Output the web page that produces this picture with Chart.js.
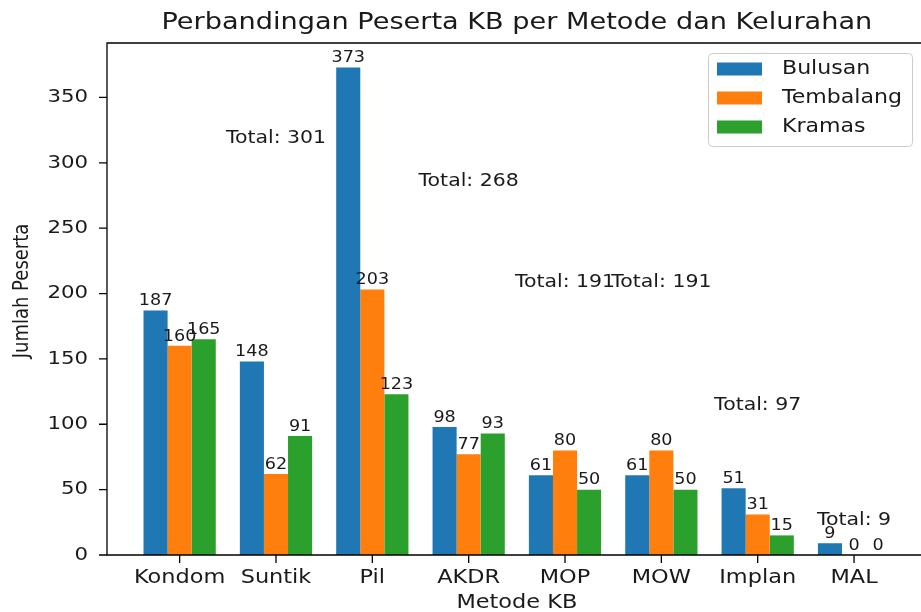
<!DOCTYPE html>
<html>
<head>
<meta charset="utf-8">
<script src="https://cdn.jsdelivr.net/npm/chart.js@4.4.1/dist/chart.umd.min.js"></script>
<style>
  html, body { margin: 0; padding: 0; background: #fff; overflow: hidden; }
  canvas { display: block; }
</style>
</head>
<body>
<canvas id="kbChart" width="921" height="612"></canvas>
<script>
// data
const categories = ['Kondom', 'Suntik', 'Pil', 'AKDR', 'MOP', 'MOW', 'Implan', 'MAL'];
const seriesNames = ['Bulusan', 'Tembalang', 'Kramas'];
const bulusan = [187, 148, 373, 98, 61, 61, 51, 9];
const tembalang = [160, 62, 203, 77, 80, 80, 31, 0];
const kramas = [165, 91, 123, 93, 50, 50, 15, 0];
const yTicks = [0, 50, 100, 150, 200, 250, 300, 350];

const colors = ['#1f77b4', '#ff7f0e', '#2ca02c'];
const FONT = '"DejaVu Sans", sans-serif';
const SX = 1.15; // teks di gambar sedikit melebar
const INK = '#1a1a1a';

function stext(ctx, s, x, y, size, align, base, rot) {
  ctx.save();
  ctx.font = size + 'px ' + FONT;
  ctx.fillStyle = INK;
  ctx.textAlign = align;
  ctx.textBaseline = base;
  ctx.translate(x, y);
  if (rot) {
    ctx.rotate(rot);
    ctx.scale(1, SX);
  } else {
    ctx.scale(SX, 1);
  }
  ctx.fillText(s, 0, 0);
  ctx.restore();
}

const allSeries = [bulusan, tembalang, kramas];
const totals = categories.map((c, i) => allSeries.reduce((s, arr) => s + arr[i], 0));

const decorPlugin = {
  id: 'decor',
  afterDatasetsDraw(chart) {
    const ctx = chart.ctx;
    const xs = chart.scales.x, ys = chart.scales.y;

    // angka di atas batang
    chart.data.datasets.forEach((ds, d) => {
      chart.getDatasetMeta(d).data.forEach((bar, i) => {
        stext(ctx, String(allSeries[d][i]), bar.x, bar.y - 1.5, 15.3, 'center', 'bottom');
      });
    });

    // total per metode
    totals.forEach((t, i) => {
      stext(ctx, 'Total: ' + t, xs.getPixelForValue(i), ys.getPixelForValue(t + 17.5), 17.8, 'center', 'middle');
    });
  },
  afterDraw(chart) {
    const ctx = chart.ctx;
    const xs = chart.scales.x, ys = chart.scales.y;
    const a = chart.chartArea;

    // spines
    ctx.save();
    ctx.strokeStyle = '#000';
    ctx.lineWidth = 1.3;
    ctx.beginPath();
    ctx.moveTo(a.right + 2, a.top); ctx.lineTo(a.left, a.top);
    ctx.lineTo(a.left, a.bottom); ctx.lineTo(a.right + 2, a.bottom);
    ctx.stroke();

    // tick kecil
    ctx.beginPath();
    yTicks.forEach(v => {
      const y = ys.getPixelForValue(v);
      ctx.moveTo(a.left, y); ctx.lineTo(a.left - 8, y);
    });
    categories.forEach((c, i) => {
      const x = xs.getPixelForValue(i);
      ctx.moveTo(x, a.bottom); ctx.lineTo(x, a.bottom + 8);
    });
    ctx.stroke();
    ctx.restore();

    yTicks.forEach(v => {
      stext(ctx, String(v), a.left - 19, ys.getPixelForValue(v), 18.5, 'right', 'middle');
    });
    categories.forEach((c, i) => {
      stext(ctx, c, xs.getPixelForValue(i), a.bottom + 13, 19.5, 'center', 'top');
    });

    const midX = xs.getPixelForValue(3.5);
    stext(ctx, 'Metode KB', midX, a.bottom + 38, 19.5, 'center', 'top');
    stext(ctx, 'Jumlah Peserta', 23, 291, 18, 'center', 'middle', -Math.PI / 2);
    stext(ctx, 'Perbandingan Peserta KB per Metode dan Kelurahan', midX, 23, 23.6, 'center', 'middle');

    // legenda
    const lx = 708, ly = 53, lw = 204, lh = 93;
    ctx.save();
    ctx.fillStyle = 'rgba(255,255,255,0.8)';
    ctx.strokeStyle = '#cccccc';
    ctx.lineWidth = 1;
    ctx.beginPath();
    ctx.roundRect(lx + 0.5, ly + 0.5, lw, lh, 4);
    ctx.fill();
    ctx.stroke();
    seriesNames.forEach((name, k) => {
      const cy = 69 + k * 29;
      ctx.fillStyle = colors[k];
      ctx.fillRect(717, cy - 6.5, 45, 13);
      stext(ctx, name, 782, cy, 19.2, 'left', 'middle');
    });
    ctx.restore();
  }
};

new Chart(document.getElementById('kbChart'), {
  type: 'bar',
  data: {
    datasets: allSeries.map((arr, d) => ({
      label: seriesNames[d],
      data: arr.map((v, i) => ({ x: i, y: v })),
      backgroundColor: colors[d],
      borderWidth: 0,
      categoryPercentage: 0.75,
      barPercentage: 1.0
    }))
  },
  options: {
    responsive: false,
    animation: false,
    layout: { padding: { left: 107, top: 43, right: 0, bottom: 57 } },
    plugins: {
      legend: { display: false },
      title: { display: false },
      tooltip: { enabled: false }
    },
    scales: {
      x: {
        type: 'linear',
        display: false,
        offset: false,
        bounds: 'data',
        min: -0.754,
        max: 7.695,
        afterBuildTicks: (scale) => {
          scale.ticks = categories.map((c, i) => ({ value: i }));
        }
      },
      y: {
        type: 'linear',
        display: false,
        min: 0,
        max: 391.65
      }
    }
  },
  plugins: [decorPlugin]
});
</script>
</body>
</html>
